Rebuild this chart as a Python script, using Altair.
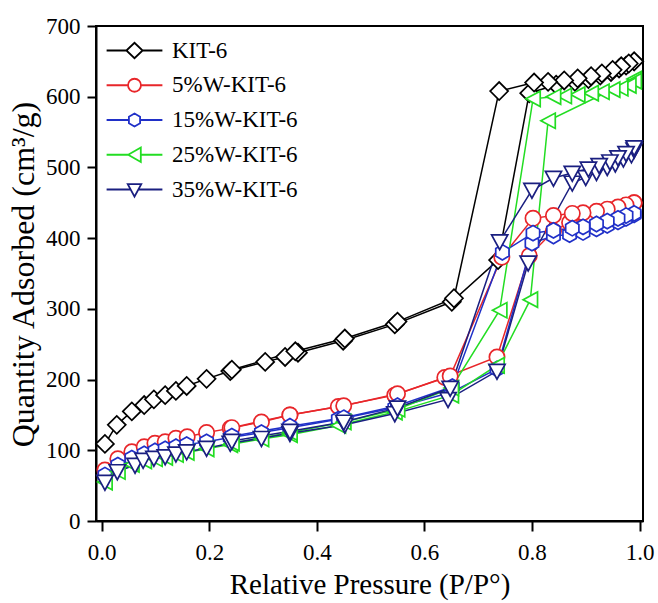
import altair as alt
import pandas as pd

series = ["KIT-6", "5%W-KIT-6", "15%W-KIT-6", "25%W-KIT-6", "35%W-KIT-6"]
colors = ["#000000", "#e8262a", "#2030c8", "#22dd22", "#1a1f80"]

# KIT-6
kit_ads_x = [0.006, 0.028, 0.056, 0.079, 0.097, 0.118, 0.138, 0.158, 0.195, 0.239, 0.304, 0.341, 0.365, 0.449, 0.545, 0.651, 0.737, 0.795, 0.845, 0.88, 0.905, 0.927, 0.947, 0.962, 0.975, 0.99]
kit_ads_y = [109, 136, 155, 164, 172, 178, 184, 191, 201, 212, 225, 232, 238, 255, 278, 310, 369, 605, 617, 621, 625, 630, 635, 640, 644, 650]
kit_des_x = [0.99, 0.98, 0.966, 0.95, 0.93, 0.91, 0.885, 0.86, 0.83, 0.804, 0.739, 0.655, 0.55, 0.452, 0.36, 0.242]
kit_des_y = [650, 647, 643, 638, 633, 629, 626, 623, 621, 620, 608, 315, 282, 258, 240, 214]

# 5%W-KIT-6
w5_ads_x = [0.006, 0.03, 0.056, 0.079, 0.099, 0.118, 0.138, 0.159, 0.195, 0.239, 0.297, 0.35, 0.44, 0.545, 0.638, 0.735, 0.795, 0.84, 0.87, 0.9, 0.925, 0.945, 0.96, 0.975, 0.99]
w5_ads_y = [72, 88, 98, 105, 110, 112, 117, 119, 125, 131, 140, 150, 162, 178, 203, 232, 375, 410, 422, 430, 437, 440, 443, 446, 450]
w5_des_x = [0.99, 0.975, 0.96, 0.94, 0.92, 0.895, 0.875, 0.84, 0.802, 0.744, 0.648, 0.55, 0.45, 0.35, 0.242]
w5_des_y = [450, 447, 444, 441, 438, 436, 435, 432, 428, 373, 205, 180, 163, 150, 132]

# 15%W-KIT-6
w15_ads_x = [0.006, 0.03, 0.056, 0.079, 0.099, 0.118, 0.138, 0.158, 0.195, 0.239, 0.297, 0.35, 0.44, 0.545, 0.65, 0.735, 0.8, 0.84, 0.87, 0.895, 0.92, 0.94, 0.96, 0.975, 0.99]
w15_ads_y = [65, 79, 89, 95, 99, 102, 105, 108, 112, 118, 125, 132, 144, 160, 182, 215, 393, 403, 405, 408, 413, 418, 423, 428, 433]
w15_des_x = [0.99, 0.975, 0.96, 0.94, 0.92, 0.895, 0.875, 0.84, 0.802, 0.745, 0.652, 0.55, 0.45, 0.35, 0.242]
w15_des_y = [435, 432, 428, 424, 420, 416, 414, 411, 407, 380, 190, 163, 146, 134, 120]

# 25%W-KIT-6
w25_ads_x = [0.006, 0.03, 0.056, 0.079, 0.099, 0.118, 0.138, 0.158, 0.195, 0.239, 0.297, 0.35, 0.44, 0.545, 0.65, 0.735, 0.797, 0.83, 0.99]
w25_ads_y = [55, 70, 80, 85, 88, 90, 94, 97, 102, 108, 116, 122, 135, 154, 178, 220, 313, 566, 625]
w25_des_x = [0.99, 0.98, 0.965, 0.95, 0.93, 0.91, 0.885, 0.86, 0.84, 0.802, 0.74, 0.65, 0.55, 0.45, 0.35, 0.242]
w25_des_y = [622, 616, 612, 610, 607, 605, 603, 601, 600, 597, 298, 188, 158, 140, 125, 110]

# 35%W-KIT-6
w35_ads_x = [0.006, 0.029, 0.062, 0.077, 0.097, 0.118, 0.138, 0.158, 0.195, 0.239, 0.297, 0.35, 0.452, 0.545, 0.644, 0.735, 0.793, 0.875, 0.9, 0.92, 0.94, 0.955, 0.97, 0.985, 0.99]
w35_ads_y = [55, 70, 79, 86, 89, 91, 95, 98, 103, 110, 117, 124, 136, 152, 172, 212, 365, 478, 486, 493, 500, 505, 512, 518, 525]
w35_des_x = [0.99, 0.975, 0.96, 0.945, 0.925, 0.905, 0.875, 0.84, 0.8, 0.74, 0.648, 0.55, 0.45, 0.35, 0.242]
w35_des_y = [528, 520, 514, 508, 503, 498, 492, 485, 468, 395, 188, 160, 140, 127, 113]

branches = {
    "KIT-6": (kit_ads_x, kit_ads_y, kit_des_x, kit_des_y),
    "5%W-KIT-6": (w5_ads_x, w5_ads_y, w5_des_x, w5_des_y),
    "15%W-KIT-6": (w15_ads_x, w15_ads_y, w15_des_x, w15_des_y),
    "25%W-KIT-6": (w25_ads_x, w25_ads_y, w25_des_x, w25_des_y),
    "35%W-KIT-6": (w35_ads_x, w35_ads_y, w35_des_x, w35_des_y),
}

rows = []
for name in series:
    ax, ay, dx, dy = branches[name]
    for i, (xv, yv) in enumerate(zip(ax, ay)):
        rows.append({"series": name, "key": name + " ads", "i": i, "x": xv, "y": yv})
    for i, (xv, yv) in enumerate(zip(dx, dy)):
        rows.append({"series": name, "key": name + " des", "i": i, "x": xv, "y": yv})
df = pd.DataFrame(rows)

# marker shapes (unit = sqrt(size)/2)
hexagon = "M0,-0.85L0.736,-0.425L0.736,0.425L0,0.85L-0.736,0.425L-0.736,-0.425Z"
plot_shapes = [
    "M-1,0L0,-1L1,0L0,1Z",
    "M0.85,0A0.85,0.85,0,1,1,-0.85,0A0.85,0.85,0,1,1,0.85,0Z",
    hexagon,
    "M-0.8,0L0.8,-0.85L0.8,0.85Z",
    "M-0.9,-0.75L0.9,-0.75L0,0.9Z",
]
legend_shapes = [
    "M-3.1,0L-0.9,0M0.9,0L3.1,0M-0.9,0L0,-0.85L0.9,0L0,0.85Z",
    "M-3.1,0L-0.72,0M0.72,0L3.1,0M0.72,0A0.72,0.72,0,1,1,-0.72,0A0.72,0.72,0,1,1,0.72,0Z",
    "M-3.1,0L-0.62,0M0.62,0L3.1,0M0,-0.72L0.62,-0.36L0.62,0.36L0,0.72L-0.62,0.36L-0.62,-0.36Z",
    "M-3.1,0L-0.7,0M0.7,0L3.1,0M-0.7,0L0.7,-0.8L0.7,0.8Z",
    "M-3.1,0L-0.43,0M0.43,0L3.1,0M-0.75,-0.6L0.75,-0.6L0,0.8Z",
]

font = "Liberation Serif"

x_enc = alt.X(
    "x:Q",
    scale=alt.Scale(domain=[-0.0106, 1.0065], nice=False, zero=False),
    axis=alt.Axis(
        values=[0.0, 0.2, 0.4, 0.6, 0.8, 1.0], format=".1f",
        title="Relative Pressure (P/P°)", tickSize=10, labelPadding=10,
        titleFontSize=29, titleY=49.5, titleBaseline="top",
    ),
)
y_enc = alt.Y(
    "y:Q",
    scale=alt.Scale(domain=[0, 700], nice=False),
    axis=alt.Axis(
        values=[0, 100, 200, 300, 400, 500, 600, 700],
        title="Quantity Adsorbed (cm³/g)", tickSize=9, labelPadding=7,
        titleFontSize=32, titleX=-63, titleY=248, titleBaseline="alphabetic",
        titleAngle=270, titleAlign="center",
    ),
)
color_scale = alt.Scale(domain=series, range=colors)

lines = alt.Chart(df).mark_line(strokeWidth=1.5).encode(
    x=x_enc, y=y_enc,
    color=alt.Color("series:N", scale=color_scale, legend=None),
    detail="key:N",
    order="i:Q",
)

points = alt.Chart(df).mark_point(filled=False, fill="white", fillOpacity=1, opacity=1, strokeWidth=1.7, size=324).encode(
    x=x_enc, y=y_enc,
    color=alt.Color("series:N", scale=color_scale, legend=None),
    shape=alt.Shape("series:N", scale=alt.Scale(domain=series, range=plot_shapes), legend=None),
)

legend_layer = alt.Chart(df).mark_point(filled=False, fill="white", strokeWidth=1.8, size=324, clip=True).encode(
    x=alt.value(-600), y=alt.value(-600),
    color=alt.Color("series:N", scale=color_scale, legend=alt.Legend(title=None)),
    shape=alt.Shape("series:N", scale=alt.Scale(domain=series, range=legend_shapes), legend=alt.Legend(title=None)),
)

chart = alt.layer(lines, points, legend_layer).resolve_scale(
    shape="independent", color="independent"
).properties(
    width=547, height=495,
    autosize=alt.AutoSizeParams(type="none"),
    padding={"left": 96, "top": 26, "right": 15, "bottom": 82},
    background="white",
).configure_view(
    stroke="black", strokeWidth=2,
).configure_axis(
    labelFont=font, labelFontSize=23, labelColor="black",
    titleFont=font, titleFontWeight="normal", titleColor="black",
    domainColor="black", domainWidth=2, tickColor="black", tickWidth=2,
    grid=False,
).configure_legend(
    orient="none", legendX=27, legendY=13, padding=0,
    labelFont=font, labelFontSize=23, labelColor="black", labelOffset=26,
    symbolSize=324, symbolStrokeWidth=1.8, symbolFillColor="white",
    symbolOpacity=1, rowPadding=10.75, labelLimit=300,
)

chart.save("out.html", embed_options={"renderer": "svg", "actions": False})
